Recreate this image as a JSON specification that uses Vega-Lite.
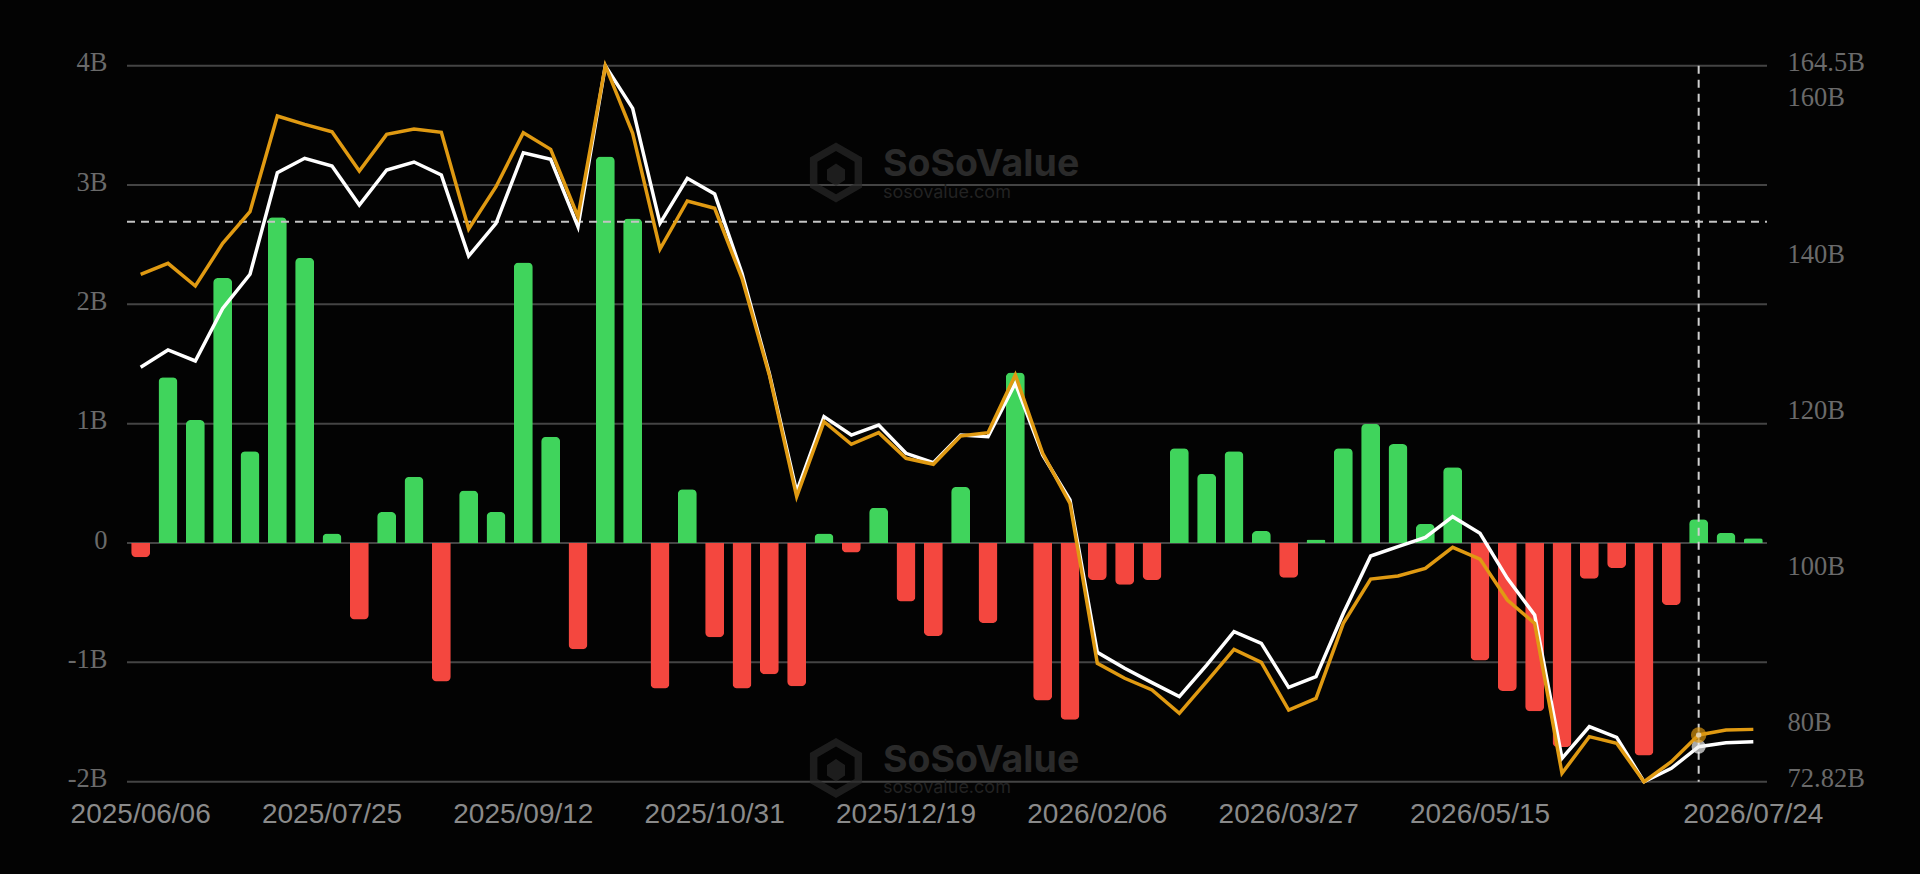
{
  "$schema": "https://vega.github.io/schema/vega-lite/v6.json",
  "width": 1640,
  "height": 716,
  "padding": {"left": 127, "top": 65.7, "right": 153, "bottom": 92.3},
  "autosize": {"type": "none"},
  "background": "#030303",
  "view": {"stroke": null},
  "datasets": {
    "weekly": [
      {"date":"2025/06/06","flow":-0.12,"white":125.88,"orange":137.79},
      {"date":"2025/06/13","flow":1.39,"white":128.10,"orange":139.19},
      {"date":"2025/06/20","flow":1.03,"white":126.69,"orange":136.29},
      {"date":"2025/06/27","flow":2.22,"white":133.43,"orange":141.75},
      {"date":"2025/07/04","flow":0.77,"white":137.79,"orange":145.81},
      {"date":"2025/07/11","flow":2.73,"white":150.80,"orange":158.06},
      {"date":"2025/07/18","flow":2.39,"white":152.64,"orange":156.99},
      {"date":"2025/07/25","flow":0.08,"white":151.66,"orange":156.05},
      {"date":"2025/08/01","flow":-0.64,"white":146.66,"orange":151.02},
      {"date":"2025/08/08","flow":0.26,"white":151.14,"orange":155.71},
      {"date":"2025/08/15","flow":0.555,"white":152.17,"orange":156.39},
      {"date":"2025/08/22","flow":-1.16,"white":150.50,"orange":155.97},
      {"date":"2025/08/29","flow":0.44,"white":140.13,"orange":143.59},
      {"date":"2025/09/05","flow":0.26,"white":144.32,"orange":149.01},
      {"date":"2025/09/12","flow":2.35,"white":153.36,"orange":155.92},
      {"date":"2025/09/19","flow":0.89,"white":152.51,"orange":153.79},
      {"date":"2025/09/26","flow":-0.89,"white":143.89,"orange":145.17},
      {"date":"2025/10/03","flow":3.24,"white":164.5,"orange":164.5},
      {"date":"2025/10/10","flow":2.72,"white":159.04,"orange":155.84},
      {"date":"2025/10/17","flow":-1.22,"white":144.32,"orange":141.03},
      {"date":"2025/10/24","flow":0.45,"white":150.08,"orange":147.18},
      {"date":"2025/10/31","flow":-0.79,"white":148.07,"orange":146.24},
      {"date":"2025/11/07","flow":-1.22,"white":137.91,"orange":137.27},
      {"date":"2025/11/14","flow":-1.10,"white":125.11,"orange":124.90},
      {"date":"2025/11/21","flow":-1.20,"white":109.96,"orange":109.32},
      {"date":"2025/11/28","flow":0.08,"white":119.56,"orange":118.92},
      {"date":"2025/12/05","flow":-0.08,"white":117.21,"orange":116.02},
      {"date":"2025/12/12","flow":0.295,"white":118.49,"orange":117.51},
      {"date":"2025/12/19","flow":-0.49,"white":114.87,"orange":114.23},
      {"date":"2025/12/26","flow":-0.78,"white":113.67,"orange":113.46},
      {"date":"2026/01/02","flow":0.47,"white":117.21,"orange":117.09},
      {"date":"2026/01/09","flow":-0.67,"white":117.00,"orange":117.51},
      {"date":"2026/01/16","flow":1.43,"white":123.83,"orange":124.90},
      {"date":"2026/01/23","flow":-1.32,"white":114.65,"orange":114.87},
      {"date":"2026/01/30","flow":-1.48,"white":108.89,"orange":108.46},
      {"date":"2026/02/06","flow":-0.31,"white":89.39,"orange":87.98},
      {"date":"2026/02/13","flow":-0.35,"white":87.34,"orange":86.06},
      {"date":"2026/02/20","flow":-0.31,"white":85.50,"orange":84.56},
      {"date":"2026/02/27","flow":0.795,"white":83.71,"orange":81.57},
      {"date":"2026/03/06","flow":0.58,"white":87.76,"orange":85.63},
      {"date":"2026/03/13","flow":0.77,"white":92.03,"orange":89.77},
      {"date":"2026/03/20","flow":0.10,"white":90.54,"orange":88.10},
      {"date":"2026/03/27","flow":-0.29,"white":84.90,"orange":82.00},
      {"date":"2026/04/03","flow":0.03,"white":86.27,"orange":83.49},
      {"date":"2026/04/10","flow":0.795,"white":94.38,"orange":93.10},
      {"date":"2026/04/17","flow":1.0,"white":101.72,"orange":98.77},
      {"date":"2026/04/24","flow":0.83,"white":102.91,"orange":99.16},
      {"date":"2026/05/01","flow":0.16,"white":104.11,"orange":100.14},
      {"date":"2026/05/08","flow":0.635,"white":106.75,"orange":102.83},
      {"date":"2026/05/15","flow":-0.985,"white":104.62,"orange":101.33},
      {"date":"2026/05/22","flow":-1.24,"white":98.86,"orange":96.08},
      {"date":"2026/05/29","flow":-1.41,"white":94.16,"orange":93.10},
      {"date":"2026/06/05","flow":-1.71,"white":75.81,"orange":73.89},
      {"date":"2026/06/12","flow":-0.30,"white":79.87,"orange":78.59},
      {"date":"2026/06/19","flow":-0.21,"white":78.50,"orange":77.73},
      {"date":"2026/06/26","flow":-1.78,"white":72.82,"orange":72.82},
      {"date":"2026/07/03","flow":-0.52,"white":74.53,"orange":75.38},
      {"date":"2026/07/10","flow":0.20,"white":77.30,"orange":78.80},
      {"date":"2026/07/17","flow":0.086,"white":77.82,"orange":79.44},
      {"date":"2026/07/24","flow":0.04,"white":77.94,"orange":79.52}
    ],
    "watermark": [
      {"date":"2025/11/28","logo":3.104,"name":3.168,"url":2.934},
      {"date":"2025/11/28","logo":-1.886,"name":-1.827,"url":-2.05}
    ]
  },
  "data": {"name": "weekly"},
  "encoding": {
    "x": {
      "field": "date",
      "type": "ordinal",
      "scale": {
        "type": "band",
        "paddingInner": 0,
        "paddingOuter": 0,
        "domain": ["2025/06/06","2025/06/13","2025/06/20","2025/06/27","2025/07/04","2025/07/11","2025/07/18","2025/07/25","2025/08/01","2025/08/08","2025/08/15","2025/08/22","2025/08/29","2025/09/05","2025/09/12","2025/09/19","2025/09/26","2025/10/03","2025/10/10","2025/10/17","2025/10/24","2025/10/31","2025/11/07","2025/11/14","2025/11/21","2025/11/28","2025/12/05","2025/12/12","2025/12/19","2025/12/26","2026/01/02","2026/01/09","2026/01/16","2026/01/23","2026/01/30","2026/02/06","2026/02/13","2026/02/20","2026/02/27","2026/03/06","2026/03/13","2026/03/20","2026/03/27","2026/04/03","2026/04/10","2026/04/17","2026/04/24","2026/05/01","2026/05/08","2026/05/15","2026/05/22","2026/05/29","2026/06/05","2026/06/12","2026/06/19","2026/06/26","2026/07/03","2026/07/10","2026/07/17","2026/07/24"]
      },
      "axis": {
        "title": null,
        "values": ["2025/06/06","2025/07/25","2025/09/12","2025/10/31","2025/12/19","2026/02/06","2026/03/27","2026/05/15","2026/07/24"],
        "labelAngle": 0,
        "labelFont": "Liberation Sans",
        "labelFontSize": 28,
        "labelColor": "#8a8a8a",
        "labelPadding": 19,
        "labelBaseline": "top",
        "labelOverlap": false,
        "labelBound": false,
        "labelFlush": false,
        "ticks": false,
        "domain": false,
        "grid": false
      }
    }
  },
  "resolve": {"scale": {"y": "independent"}},
  "layer": [
    {
      "layer": [
        {
          "data": {"values": [{"v":-2},{"v":-1},{"v":0},{"v":1},{"v":2},{"v":3},{"v":4}]},
          "mark": {"type": "rule", "color": "#444444", "strokeWidth": 2},
          "encoding": {
            "x": {"value": 0},
            "x2": {"value": 1640},
            "y": {
              "field": "v",
              "type": "quantitative",
              "scale": {"domain": [-2, 4], "nice": false, "zero": false},
              "axis": {
                "title": null,
                "orient": "left",
                "values": [-2,-1,0,1,2,3,4],
                "labelExpr": "datum.value == 0 ? '0' : datum.value + 'B'",
                "labelFont": "Liberation Serif",
                "labelFontSize": 26.5,
                "labelColor": "#6a6a6a",
                "labelPadding": 20,
                "labelOffset": -3,
                "ticks": false,
                "domain": false,
                "grid": false
              }
            }
          }
        },
        {
          "data": {"name": "watermark"},
          "mark": {"type": "point", "filled": true, "color": "#2a2a2a", "size": 3600, "shape": "M0.4,-1 L1.27,-0.5 L1.27,0.5 L0.4,1 L-0.47,0.5 L-0.47,-0.5 Z M0.4,-0.72 L-0.22,-0.36 L-0.22,0.36 L0.4,0.72 L1.02,0.36 L1.02,-0.36 Z M0.1,-0.1 L0.4,-0.3 L0.7,-0.1 L0.7,0.25 L0.4,0.45 L0.1,0.25 Z"},
          "encoding": {
            "x": {"field": "date", "type": "ordinal"},
            "y": {"field": "logo", "type": "quantitative"}
          }
        },
        {
          "data": {"name": "watermark"},
          "mark": {"type": "text", "align": "left", "baseline": "middle", "dx": 59, "font": "Inter", "fontWeight": "bold", "fontSize": 37.5, "color": "#2a2a2a"},
          "encoding": {
            "x": {"field": "date", "type": "ordinal"},
            "y": {"field": "name", "type": "quantitative"},
            "text": {"value": "SoSoValue"}
          }
        },
        {
          "data": {"name": "watermark"},
          "mark": {"type": "text", "align": "left", "baseline": "middle", "dx": 59, "font": "Inter", "fontSize": 18, "color": "#222222"},
          "encoding": {
            "x": {"field": "date", "type": "ordinal"},
            "y": {"field": "url", "type": "quantitative"},
            "text": {"value": "sosovalue.com"}
          }
        },
        {
          "transform": [{"filter": "datum.flow >= 0"}],
          "mark": {"type": "bar", "size": 19, "color": "#40d45c", "cornerRadiusTopLeft": 5, "cornerRadiusTopRight": 5},
          "encoding": {"y": {"field": "flow", "type": "quantitative"}}
        },
        {
          "transform": [{"filter": "datum.flow < 0"}],
          "mark": {"type": "bar", "size": 19, "color": "#f4473f", "cornerRadiusBottomLeft": 5, "cornerRadiusBottomRight": 5},
          "encoding": {"y": {"field": "flow", "type": "quantitative"}}
        },
        {
          "data": {"values": [{"v": 2.693}]},
          "mark": {"type": "rule", "color": "#c4c4c4", "strokeWidth": 2, "strokeDash": [8, 6]},
          "encoding": {
            "x": {"value": 0},
            "x2": {"value": 1640},
            "y": {"field": "v", "type": "quantitative"}
          }
        }
      ]
    },
    {
      "layer": [
        {
          "mark": {"type": "line", "color": "#ffffff", "strokeWidth": 3.5},
          "encoding": {
            "y": {
              "field": "white",
              "type": "quantitative",
              "scale": {"domain": [72.82, 164.5], "nice": false, "zero": false},
              "axis": {
                "title": null,
                "orient": "right",
                "values": [72.82, 80, 100, 120, 140, 160, 164.5],
                "labelExpr": "datum.value + 'B'",
                "labelFont": "Liberation Serif",
                "labelFontSize": 26.5,
                "labelColor": "#6a6a6a",
                "labelPadding": 20,
                "labelOffset": -3,
                "labelOverlap": false,
                "ticks": false,
                "domain": false,
                "grid": false
              }
            }
          }
        },
        {
          "mark": {"type": "line", "color": "#e09a12", "strokeWidth": 3.5},
          "encoding": {"y": {"field": "orange", "type": "quantitative"}}
        },
        {
          "transform": [{"filter": "datum.date == '2026/07/10'"}],
          "mark": {"type": "rule", "color": "#d0d0d0", "strokeWidth": 2, "strokeDash": [8, 6]},
          "encoding": {"y": {"value": 0}, "y2": {"value": 716}}
        },
        {
          "transform": [{"filter": "datum.date == '2026/07/10'"}],
          "mark": {"type": "point", "filled": true, "color": "#f0f0f0", "size": 200},
          "encoding": {"y": {"field": "white", "type": "quantitative"}}
        },
        {
          "transform": [{"filter": "datum.date == '2026/07/10'"}],
          "mark": {"type": "point", "filled": true, "color": "#d99410", "size": 240},
          "encoding": {"y": {"field": "orange", "type": "quantitative"}}
        },
        {
          "transform": [{"filter": "datum.date == '2026/07/10'"}],
          "mark": {"type": "point", "filled": true, "color": "#e8e8e8", "size": 30},
          "encoding": {"y": {"field": "orange", "type": "quantitative"}}
        }
      ]
    }
  ]
}
